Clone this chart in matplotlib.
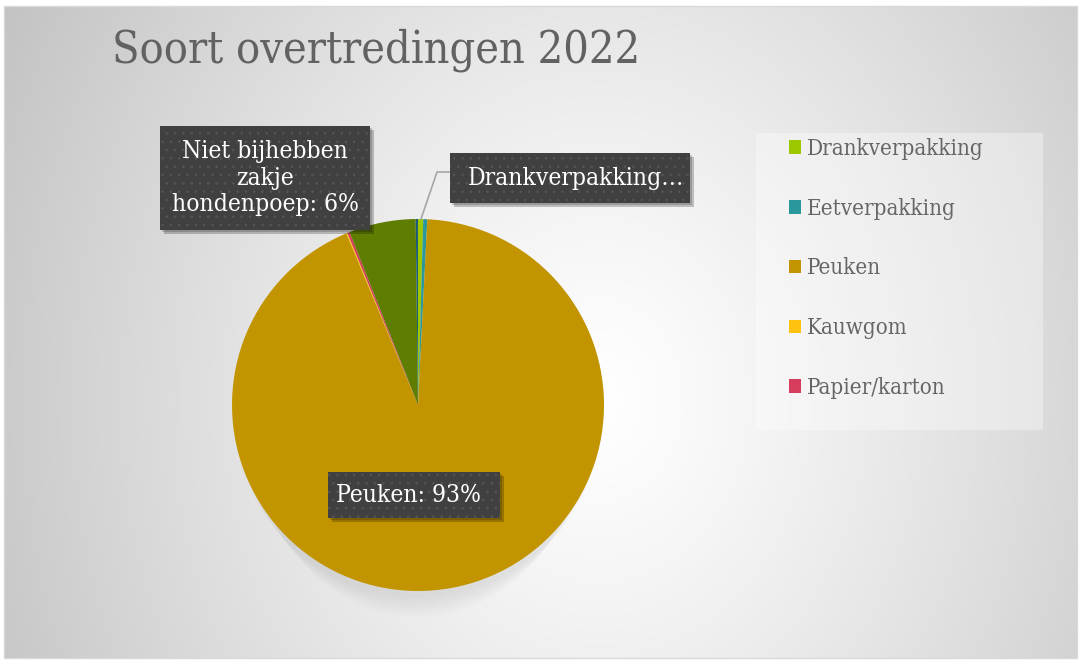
import numpy as np
import matplotlib
matplotlib.use("Agg")
import matplotlib.pyplot as plt
from matplotlib.patches import Rectangle, Ellipse

plt.rcParams["hatch.color"] = "#4d4d4d"
plt.rcParams["hatch.linewidth"] = 0.6

# ---- data ----
categories = ["Drankverpakking", "Eetverpakking", "Peuken", "Kauwgom",
              "Papier/karton", "Niet bijhebben zakje hondenpoep", "Overig"]
values = [0.45, 0.35, 92.9, 0.1, 0.2, 5.8, 0.2]
colors = ["#9DC800", "#2A979C", "#C29500", "#FFC20E", "#D63C5E", "#5F7D00", "#1F5C75"]
legend_count = 5
title = "Soort overtredingen 2022"
label_hond = "Niet bijhebben\nzakje\nhondenpoep: 6%"
label_drank = "Drankverpakking…"
label_peuken = "Peuken: 93%"

W, H = 1081, 661
fig = plt.figure(figsize=(W / 100, H / 100), dpi=100)
fig.patch.set_facecolor("white")
ax = fig.add_axes([0, 0, 1, 1])

def Y(y):
    return H - y

FONT = dict(family="DejaVu Serif", stretch="condensed")

# pie
cx, cy, r = 418, 405, 186
wedges, _ = ax.pie(values, colors=colors, startangle=90, counterclock=False,
                   center=(cx, Y(cy)), radius=r, wedgeprops=dict(linewidth=0))
for w in wedges:
    w.set_zorder(3)

# background radial gradient
x0, x1, y0, y1 = 4, 1077, 6, 658
xx, yy = np.meshgrid(np.linspace(x0, x1, 600), np.linspace(y0, y1, 400))
d = np.hypot((xx - 600) / 590.0, (yy - 400) / 720.0)
g = np.clip(1 - 0.20 * d ** 1.2, 0, 1)
img = np.dstack([g, g, g])
ax.imshow(img, extent=(x0, x1, Y(y1), Y(y0)), origin="upper", zorder=0, interpolation="bilinear")
ax.set_xlim(0, W)
ax.set_ylim(0, H)
ax.set_aspect("equal")
ax.axis("off")
ax.add_patch(Rectangle((x0, Y(y1)), x1 - x0, y1 - y0, fill=False, ec="#d9d9d9", lw=1, zorder=1))

# pie shadow
for i in range(10):
    ax.add_patch(Ellipse((cx, Y(cy + 4 + i * 1.0)), 2 * r - i * 4, 2 * r + 4 + i * 2.5,
                         fc="black", alpha=0.008, lw=0, zorder=1.5))

# title
t = ax.text(112, Y(62), title, fontsize=34, color="#626262", ha="left", va="baseline", zorder=5, **FONT)
fig.canvas.draw()
rend = fig.canvas.get_renderer()

def fit(txt, target, size):
    bb = txt.get_window_extent(rend)
    txt.set_fontsize(size * target / bb.width)

fit(t, 530, 34)

def box(xa, ya, xb, yb):
    ax.add_patch(Rectangle((xa + 4, Y(yb + 4)), xb - xa, yb - ya, fc="black", alpha=0.22, lw=0, zorder=6))
    ax.add_patch(Rectangle((xa + 2, Y(yb + 2)), xb - xa, yb - ya, fc="black", alpha=0.18, lw=0, zorder=6))
    p = Rectangle((xa, Y(yb)), xb - xa, yb - ya, fc="#404040", ec="#555555", lw=0, hatch="..", zorder=7)
    ax.add_patch(p)

# labels
box(160, 126, 370, 230)
th = ax.text(265, Y(178), label_hond, color="white", ha="center", va="center", fontsize=17,
             linespacing=1.2, zorder=8, **FONT)
box(450, 153, 690, 203)
td = ax.text(576, Y(179), label_drank, color="white", ha="center", va="center", fontsize=17, zorder=8, **FONT)
box(328, 472, 500, 518)
tp = ax.text(408, Y(496), label_peuken, color="white", ha="center", va="center", fontsize=17, zorder=8, **FONT)
fit(td, 217, 17)
sz = td.get_fontsize()
th.set_fontsize(sz)
tp.set_fontsize(sz)

# leader line
ax.plot([450, 437, 421], [Y(172), Y(172), Y(219)], color="#a6a6a6", lw=1.2, zorder=4)

# legend
ax.add_patch(Rectangle((756, Y(430)), 287, 297, fc="white", alpha=0.35, lw=0, zorder=2))
leg = ax.legend(wedges[:legend_count], categories[:legend_count], loc="upper left",
                bbox_to_anchor=(780 / W, 1 - 129 / H), bbox_transform=fig.transFigure,
                frameon=False, prop=dict(size=16, **FONT), labelcolor="#666666",
                handlelength=0.55, handleheight=0.55, handletextpad=0.25, labelspacing=1.70,
                borderaxespad=0)
leg.set_zorder(9)

fig.savefig("out.png", dpi=100, facecolor="white")
